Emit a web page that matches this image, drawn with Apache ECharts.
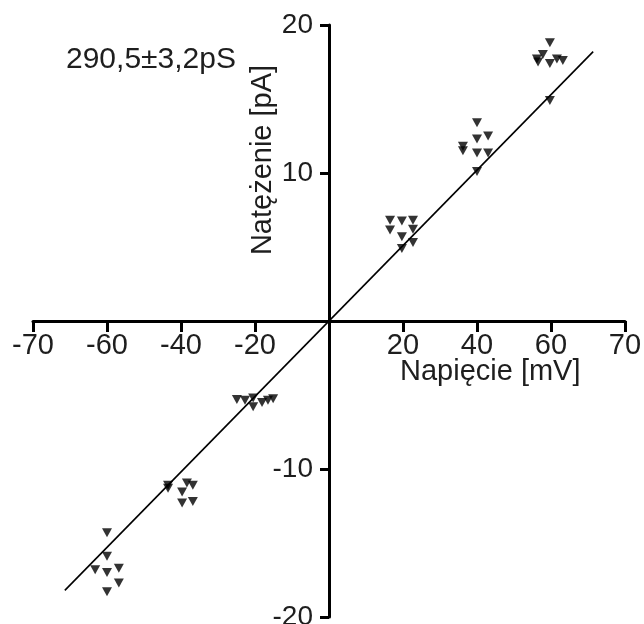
<!DOCTYPE html>
<html>
<head>
<meta charset="utf-8">
<script src="https://cdn.jsdelivr.net/npm/echarts@6/dist/echarts.min.js"></script>
<style>html,body{margin:0;padding:0;background:#fff;}#c{width:644px;height:624px;}</style>
</head>
<body>
<div id="c"></div>
<script>
// Voltage (mV, axis units) and current (pA) of each measured point
const voltages = [
  59.7, 57.8, 56.2, 56.5, 59.7, 61.6, 63.2, 59.7,
  40.0, 40.0, 43.0, 36.2, 36.2, 40.0, 43.0, 40.0,
  16.5, 19.7, 22.7, 16.5, 22.7, 19.7, 22.7, 19.7,
  -24.9, -22.7, -20.5, -20.5, -18.1, -16.5, -15.1,
  -43.5, -43.5, -38.4, -36.8, -39.7, -39.7, -36.8,
  -60.0, -60.0, -63.2, -60.0, -56.8, -56.8, -60.0
];
const currents = [
  18.8, 18.0, 17.7, 17.5, 17.4, 17.7, 17.6, 14.9,
  13.4, 12.3, 12.5, 11.8, 11.5, 11.35, 11.35, 10.1,
  6.8, 6.75, 6.8, 6.15, 6.2, 5.7, 5.3, 4.9,
  -5.3, -5.35, -5.2, -5.8, -5.5, -5.35, -5.25,
  -11.1, -11.3, -10.95, -11.1, -11.55, -12.3, -12.2,
  -14.3, -15.9, -16.8, -17.0, -16.7, -17.7, -18.3
];
// Linear fit end points
const fitX = [-71.4, 71.4];
const fitY = [-18.2, 18.2];
// Tick labels (ticks equally spaced; end ticks labelled 70)
const xTickValues = [-80, -60, -40, -20, 0, 20, 40, 60, 80];
const xTickLabels = ['-70', '-60', '-40', '-20', '', '20', '40', '60', '70'];
const yTickValues = [-20, -10, 0, 10, 20];
const yTickLabels = ['-20', '-10', '', '10', '20'];
const titleText = '290,5±3,2pS';
const xName = 'Napięcie [mV]';
const yName = 'Natężenie [pA]';

const FONT = 'Liberation Sans, Arial, sans-serif';
const TXT = '#1e1e1e';

const points = voltages.map((v, i) => [v, currents[i]]);
const fit = fitX.map((v, i) => [v, fitY[i]]);

const GRID = {left: 33, right: 19, top: 25, bottom: 7};
const gridW = 644 - GRID.left - GRID.right;
const gridH = 624 - GRID.top - GRID.bottom;

const chart = echarts.init(document.getElementById('c'), null, {renderer: 'canvas'});
chart.setOption({
  backgroundColor: '#fff',
  animation: false,
  title: {
    text: titleText, left: 61, top: 40,
    textStyle: {fontFamily: FONT, fontSize: 30, fontWeight: 'normal', color: TXT}
  },
  grid: Object.assign({containLabel: false, outerBoundsMode: 'none'}, GRID),
  xAxis: {
    type: 'value', min: -80, max: 80, interval: 20, position: 'bottom',
    offset: -gridH / 2,
    axisLine: {onZero: false, lineStyle: {color: '#000', width: 3}},
    axisTick: {show: true, inside: false, length: 11, lineStyle: {color: '#000', width: 3}},
    axisLabel: {
      margin: 10, fontFamily: FONT, fontSize: 29, color: TXT,
      formatter: v => { const i = xTickValues.indexOf(v); return i >= 0 ? xTickLabels[i] : ''; }
    },
    splitLine: {show: false}
  },
  yAxis: {
    type: 'value', min: -20, max: 20, interval: 10, position: 'left',
    offset: -gridW / 2,
    axisLine: {onZero: false, lineStyle: {color: '#000', width: 3}},
    axisTick: {show: true, inside: false, length: 9, lineStyle: {color: '#000', width: 3}},
    axisLabel: {
      margin: 16, fontFamily: FONT, fontSize: 28, color: TXT,
      formatter: v => { const i = yTickValues.indexOf(v); return i >= 0 ? yTickLabels[i] : ''; }
    },
    splitLine: {show: false}
  },
  graphic: [
    {type: 'text', left: 400, top: 357,
     style: {text: xName, font: '29px ' + FONT, fill: TXT}},
    {type: 'text', x: 263, y: 160, rotation: Math.PI / 2,
     style: {text: yName, font: '29px ' + FONT, fill: TXT, align: 'center', verticalAlign: 'middle'}}
  ],
  series: [
    {
      type: 'line', data: fit, showSymbol: false, symbol: 'none',
      lineStyle: {color: '#000', width: 1.6}, z: 3
    },
    {
      type: 'scatter', data: points, symbol: 'triangle', symbolRotate: 180,
      symbolSize: [10, 9], itemStyle: {color: '#000'}, z: 4
    }
  ]
});
</script>
</body>
</html>
